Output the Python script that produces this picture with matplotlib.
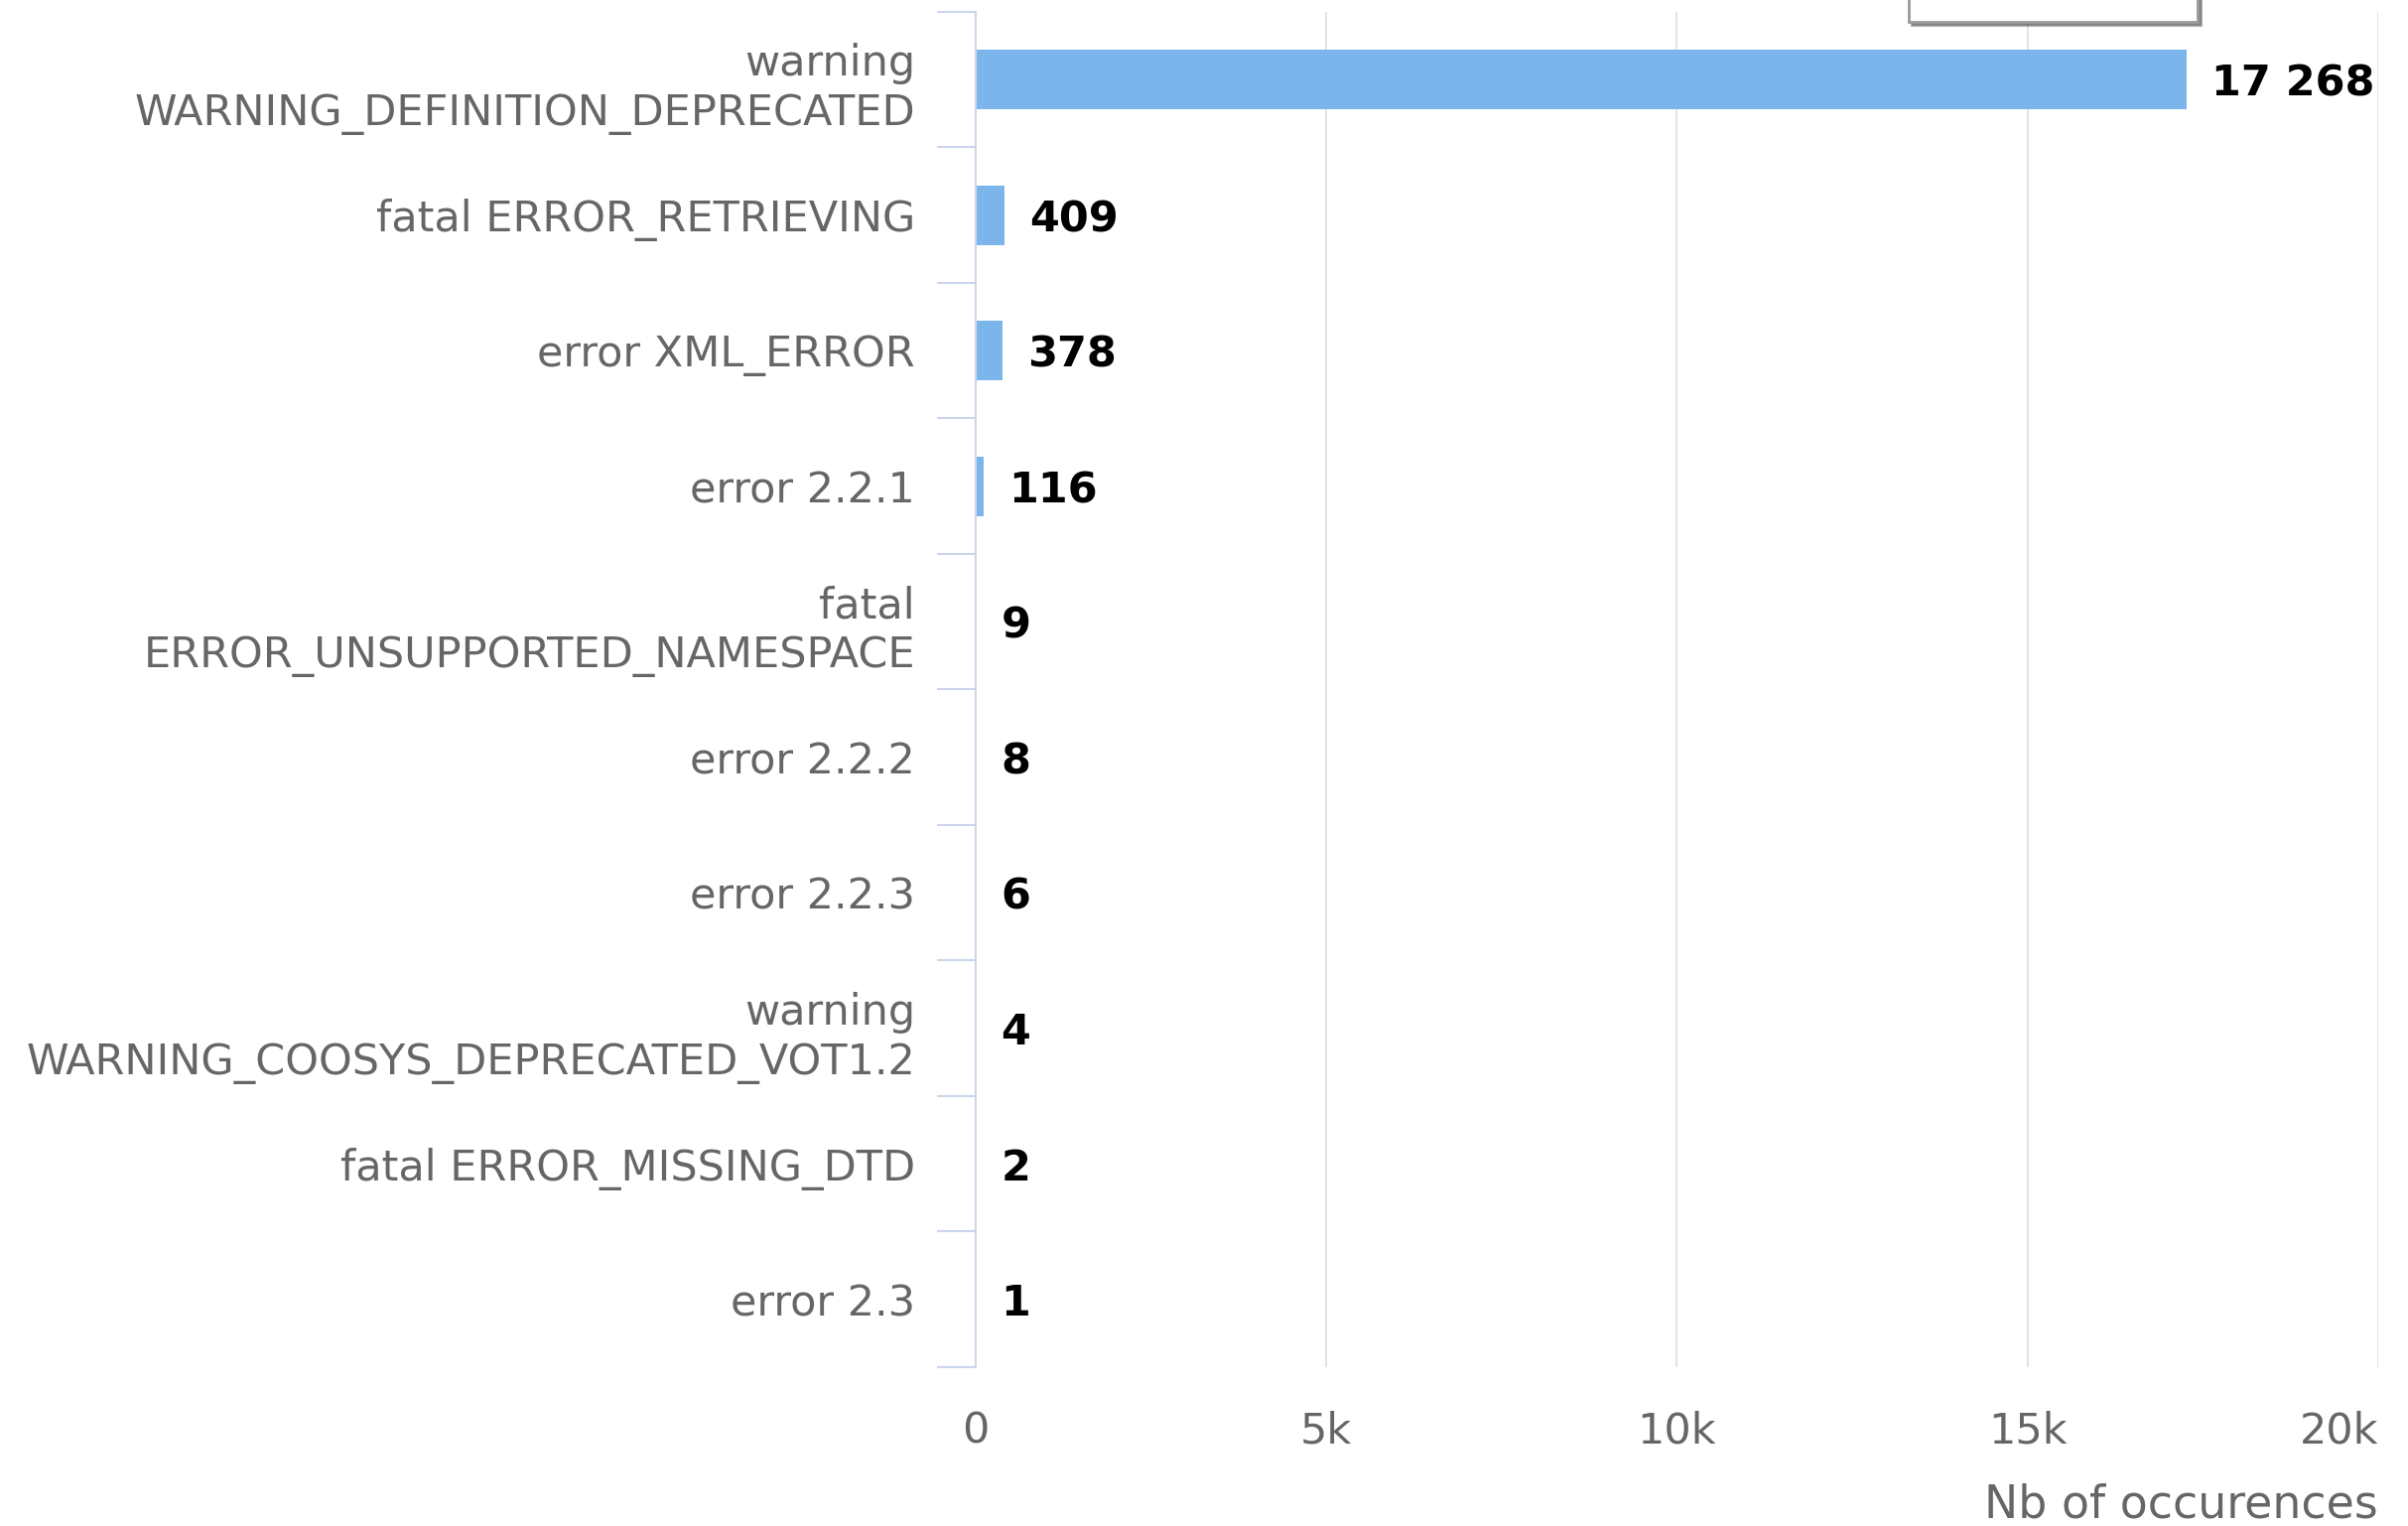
import matplotlib.pyplot as plt
from matplotlib.ticker import FixedLocator, FuncFormatter

# dados
categorias = [
    "warning\nWARNING_DEFINITION_DEPRECATED",
    "fatal ERROR_RETRIEVING",
    "error XML_ERROR",
    "error 2.2.1",
    "fatal\nERROR_UNSUPPORTED_NAMESPACE",
    "error 2.2.2",
    "error 2.2.3",
    "warning\nWARNING_COOSYS_DEPRECATED_VOT1.2",
    "fatal ERROR_MISSING_DTD",
    "error 2.3",
]
ocorrencias = [17268, 409, 378, 116, 9, 8, 6, 4, 2, 1]
ticks_x = [0, 5000, 10000, 15000, 20000]
nome_serie = "Count"

COR_BARRA = "#7cb5ec"
COR_TEXTO = "#666666"
COR_EIXO = "#ccd6eb"
COR_GRADE = "#e0e0e0"


def plotar():
    plt.rcParams['font.family'] = ['DejaVu Sans']
    fig = plt.figure(figsize=(24.26, 15.37), dpi=100)
    ax = fig.add_axes([0.4052, 0.1041, 0.5824, 0.8881])

    pos = list(range(len(categorias)))
    barras = ax.barh(pos, ocorrencias, height=0.44, color=COR_BARRA, zorder=3,
                     label=nome_serie)

    # rotulos de dados com espaco como separador de milhar
    rotulos = [f"{v:,}".replace(",", " ") for v in ocorrencias]
    textos = ax.bar_label(barras, labels=rotulos, padding=18, fontsize=31,
                          fontweight='bold', color='black')
    for t in textos:
        t.set_va('center_baseline')

    ax.set_xlim(0, 20000)
    ax.set_ylim(len(categorias) - 0.5, -0.5)

    # eixo x (valores)
    ax.xaxis.set_major_locator(FixedLocator(ticks_x))
    ax.xaxis.set_major_formatter(FuncFormatter(lambda v, p: "0" if v == 0 else f"{int(v/1000)}k"))
    ax.tick_params(axis='x', length=0, pad=31, labelsize=31, labelcolor=COR_TEXTO)
    ax.grid(axis='x', color=COR_GRADE, linewidth=1.3, zorder=0)
    ax.set_xlabel("Nb of occurences", loc='right', fontsize=33, color=COR_TEXTO, labelpad=23)
    # ultimo rotulo fica dentro da figura, como no original
    ax.get_xticklabels()[-1].set_horizontalalignment('right')

    # eixo y (categorias), ticks entre as categorias
    ax.set_yticks(pos)
    ax.set_yticklabels(categorias, linespacing=1.25)
    ax.yaxis.set_minor_locator(FixedLocator([p - 0.5 for p in pos] + [pos[-1] + 0.5]))
    ax.tick_params(axis='y', which='major', length=0, pad=44, labelsize=31, labelcolor=COR_TEXTO)
    ax.tick_params(axis='y', which='minor', length=28, width=1.5, color=COR_EIXO)

    for lado in ['top', 'right', 'bottom']:
        ax.spines[lado].set_visible(False)
    ax.spines['left'].set_color(COR_EIXO)
    ax.spines['left'].set_linewidth(1.5)
    ax.spines['left'].set_zorder(4)

    # legenda cortada no topo da figura
    leg = ax.legend(handles=[plt.Line2D([], [], marker='o', linestyle='none',
                                        markersize=18, color=COR_BARRA)],
                    labels=[nome_serie], loc='lower left',
                    bbox_to_anchor=(1923 / 2426, 1 - 22 / 1537),
                    bbox_transform=fig.transFigure, borderaxespad=0,
                    fontsize=31, frameon=True, fancybox=False, shadow=True,
                    borderpad=0.6, handletextpad=0.6)
    leg.get_frame().set_edgecolor('#999999')
    leg.get_frame().set_linewidth(2)
    for t in leg.get_texts():
        t.set_color('#333333')

    plt.savefig("out.png", dpi=100)


if __name__ == "__main__":
    plotar()
